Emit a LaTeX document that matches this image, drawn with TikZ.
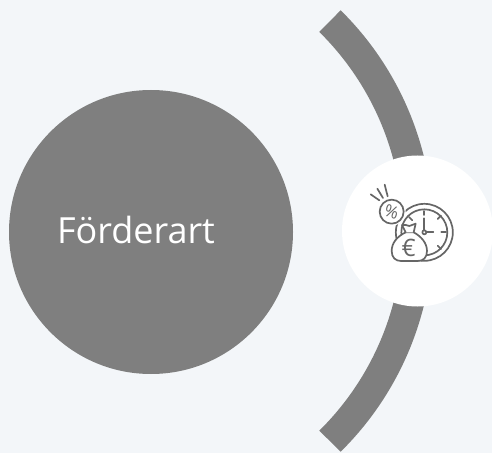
\documentclass[tikz,border=0pt]{standalone}
\usepackage{fontspec}
\setmainfont{Open Sans}
\definecolor{bgc}{HTML}{F3F6F9}
\definecolor{greyc}{HTML}{7F7F7F}
\definecolor{iconc}{HTML}{666666}
\tikzset{
  disc/.style={circle,inner sep=0pt,outer sep=0pt},
  iconline/.style={draw=iconc,line width=1.7pt,line cap=round,line join=round},
}
\begin{document}
\begin{tikzpicture}[x=1pt,y=1pt]
\fill[bgc] (0,0) rectangle (492,453);
\useasboundingbox (0,0) rectangle (492,453);
\begin{scope}[shift={(0,453)},yscale=-1]
  % band
  \fill[greyc] (123,231) ++(-45.4:310pt) arc[start angle=-45.4,end angle=45.4,radius=310pt]
     -- ++(-135.4:30pt) arc[start angle=45.4,end angle=-45.4,radius=280pt] -- cycle;
  \node[disc,fill=greyc,minimum size=284pt] (main) at (151,232) {};
  \node[anchor=base,inner sep=0pt,text=white,font=\fontsize{36}{42}\selectfont] (label) at (136,243) {Förderart};
  \node[disc,fill=white,minimum size=151pt] (badge) at (417.5,231) {};
  % icon
  \begin{scope}[shift={(365,175)},x=0.3333pt,y=0.3333pt]
    \draw[iconline,fill=white] (178,172) circle[radius=28.5pt];
    \draw[iconline] (178,172) circle[radius=23pt];
    \draw[iconline] (178,108) -- (178,120);
    \draw[iconline] (229,172) -- (243,172);
    \draw[iconline] (218,132) -- (228,122);
    \draw[iconline] (218,212) -- (228,222);
    \draw[iconline] (132,126) -- (142,136);
    \draw[iconline] (178,130) -- (178,166);
    \draw[iconline] (184,172) -- (205,172);
    \draw[iconline] (178,172) circle[radius=2pt];
    \fill[white] (80,110) circle[radius=14pt];
    \draw[iconline] (80,110) circle[radius=12pt];
    \node[font=\fontsize{17}{17}\selectfont,text=iconc,rotate=-18,inner sep=0pt] (pct) at (80,110) {\%};
    \draw[iconline] (17,58) -- (43,76);
    \draw[iconline] (37,41) -- (54,69);
    \draw[iconline] (59,29) -- (68,64);
    \draw[iconline,fill=white] (122,172) .. controls (95,185) and (80,205) .. (80,228)
      .. controls (80,248) and (92,258) .. (108,258) -- (158,258)
      .. controls (175,258) and (186,248) .. (186,228)
      .. controls (186,205) and (170,185) .. (146,172) -- cycle;
    \draw[iconline,fill=white] (122,172) -- (111,150) .. controls (120,146) and (125,153) .. (133,153)
      .. controls (140,153) and (145,146) .. (152,146) -- (146,172);
    \node[font=\fontsize{24}{24}\selectfont,text=iconc,inner sep=0pt] (eur) at (131,218) {€};
  \end{scope}
\end{scope}
\end{tikzpicture}
\end{document}
